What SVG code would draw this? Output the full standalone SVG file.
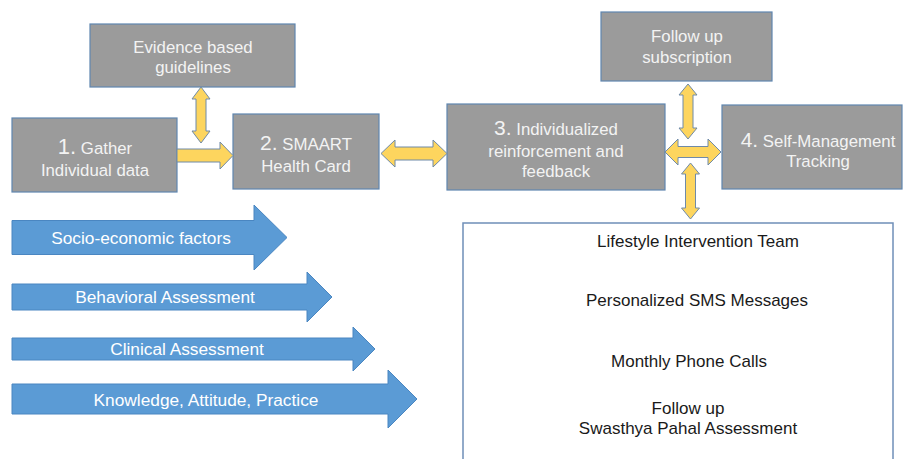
<svg xmlns="http://www.w3.org/2000/svg" width="903" height="459" viewBox="0 0 903 459">
  <style>
    .box { fill: #9b9b9b; stroke: #5f86b0; stroke-width: 1.2; }
    .boxtxt { font-family: "Liberation Sans", Arial, Helvetica, sans-serif; font-size: 16.8px; fill: #f3f3f3; text-anchor: middle; }
    .num { font-size: 21px; }
    .yarrow { fill: #fdd55e; stroke: #6f8aa8; stroke-width: 1; stroke-linejoin: miter; }
    .barrow { fill: #5b9bd5; stroke: #4a86c1; stroke-width: 1; }
    .btxt { font-family: "Liberation Sans", Arial, Helvetica, sans-serif; font-size: 17.3px; fill: #ffffff; text-anchor: middle; }
    .list { fill: #ffffff; stroke: #6f8fb8; stroke-width: 1.5; }
    .ltxt { font-family: "Liberation Sans", Arial, Helvetica, sans-serif; font-size: 17px; fill: #1a1a1a; text-anchor: middle; }
  </style>
  <rect width="903" height="459" fill="#ffffff"/>

  <!-- main process boxes -->
  <g id="evidence">
    <rect class="box" x="90" y="24" width="205" height="63"/>
    <text class="boxtxt" x="193" y="53">Evidence based</text>
    <text class="boxtxt" x="193" y="73">guidelines</text>
  </g>
  <g id="gather">
    <rect class="box" x="12" y="118" width="165" height="74"/>
    <text class="boxtxt" x="95" y="154"><tspan style="font-size:22px">1.</tspan> Gather</text>
    <text class="boxtxt" x="95" y="176">Individual data</text>
  </g>
  <g id="smaart">
    <rect class="box" x="233" y="114" width="146" height="75"/>
    <text class="boxtxt" x="306" y="150"><tspan class="num">2.</tspan> SMAART</text>
    <text class="boxtxt" x="306" y="172">Health Card</text>
  </g>
  <g id="reinforcement">
    <rect class="box" x="447" y="104" width="218" height="86"/>
    <text class="boxtxt" x="556" y="135"><tspan class="num">3.</tspan> Individualized</text>
    <text class="boxtxt" x="556" y="157">reinforcement and</text>
    <text class="boxtxt" x="556" y="177">feedback</text>
  </g>
  <g id="followup">
    <rect class="box" x="601" y="12" width="171" height="69"/>
    <text class="boxtxt" x="687" y="42">Follow up</text>
    <text class="boxtxt" x="687" y="63">subscription</text>
  </g>
  <g id="tracking">
    <rect class="box" x="722" y="105" width="180" height="84"/>
    <text class="boxtxt" x="818" y="147"><tspan class="num">4.</tspan> Self-Management</text>
    <text class="boxtxt" x="818" y="167">Tracking</text>
  </g>

  <!-- intervention list -->
  <g id="interventions">
    <rect class="list" x="463" y="223" width="430" height="250"/>
    <text class="ltxt" x="698" y="247">Lifestyle Intervention Team</text>
    <text class="ltxt" x="697" y="306">Personalized SMS Messages</text>
    <text class="ltxt" x="689" y="367">Monthly Phone Calls</text>
    <text class="ltxt" x="688" y="414">Follow up</text>
    <text class="ltxt" x="688" y="434">Swasthya Pahal Assessment</text>
  </g>

  <!-- input factor arrows -->
  <g id="socio">
    <path class="barrow" d="M12,220.5 H254 V205 L287,237.5 L254,270 V254.5 H12 Z"/>
    <text class="btxt" x="141" y="244">Socio-economic factors</text>
  </g>
  <g id="behavioral">
    <path class="barrow" d="M12,284 H307 V272 L332,297 L307,322 V310 H12 Z"/>
    <text class="btxt" x="165" y="303">Behavioral Assessment</text>
  </g>
  <g id="clinical">
    <path class="barrow" d="M12,338 H353 V327 L375,349 L353,371 V360 H12 Z"/>
    <text class="btxt" x="187" y="355">Clinical Assessment</text>
  </g>
  <g id="kap">
    <path class="barrow" d="M12,384 H388 V370 L417,399 L388,428 V414 H12 Z"/>
    <text class="btxt" x="206" y="406">Knowledge, Attitude, Practice</text>
  </g>

  <!-- connectors -->
  <g id="connectors">
    <!-- guidelines <-> health card -->
    <path class="yarrow" d="M201,87 L210,99 H206 V131 H210 L201,143 L192,131 H196 V99 H192 Z"/>
    <!-- gather -> health card -->
    <path class="yarrow" d="M177,149 H220 V142 L233,155.5 L220,169 V162 H177 Z"/>
    <!-- health card <-> reinforcement -->
    <path class="yarrow" d="M381,153.5 L395,140 V147 H433 V140 L447,153.5 L433,167 V160 H395 V167 Z"/>
    <!-- subscription <-> hub -->
    <path class="yarrow" d="M688,84 L697,95 H693 V128 H697 L688,139 L679,128 H683 V95 H679 Z"/>
    <!-- reinforcement <-> tracking -->
    <path class="yarrow" d="M665,152 L678,139 V146.5 H708 V139 L721,152 L708,165 V157.5 H678 V165 Z"/>
    <!-- hub <-> intervention list -->
    <path class="yarrow" d="M690.5,163 L699.5,174 H695.5 V208 H699.5 L690.5,219 L681.5,208 H685.5 V174 H681.5 Z"/>
  </g>
</svg>
